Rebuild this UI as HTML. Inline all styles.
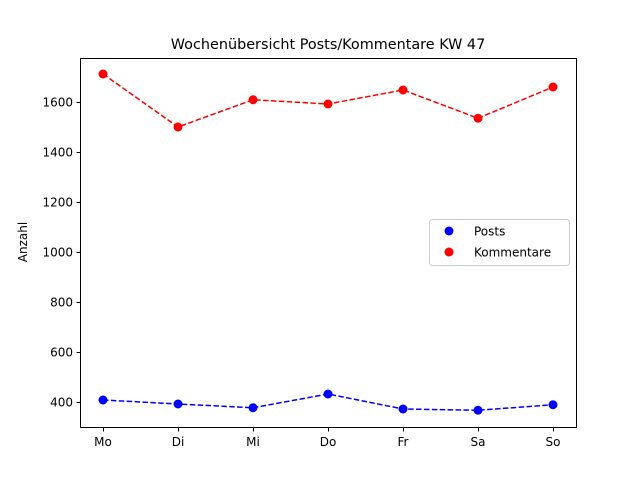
<!DOCTYPE html>
<html><head><meta charset="utf-8"><style>
body{margin:0;background:#fff;}
svg text{font-family:"DejaVu Sans","Liberation Sans",sans-serif;}
</style></head><body>
<svg id="chart" width="640" height="480" xmlns="http://www.w3.org/2000/svg">
<rect x="0" y="0" width="640" height="480" fill="#fff"/>
<text x="328" y="49" font-size="14.4" text-anchor="middle">Wochenübersicht Posts/Kommentare KW 47</text>
<text transform="translate(27,242) rotate(-90)" font-size="12" text-anchor="middle">Anzahl</text>
<g id="axes"></g>
<g id="marks"></g>
<g>
<rect x="429.5" y="219.5" width="140" height="46" rx="3" fill="#fff" stroke="#ccc"/>
<circle cx="449" cy="231" r="4.5" fill="blue"/>
<text x="474" y="235.5" font-size="12">Posts</text>
<circle cx="449" cy="252" r="4.5" fill="red"/>
<text x="474" y="256.5" font-size="12">Kommentare</text>
</g>
<rect x="80.5" y="58.5" width="496" height="369" fill="none" stroke="#000" stroke-width="1"/>
</svg>
<script>
const categories=["Mo","Di","Mi","Do","Fr","Sa","So"];
const posts=[408,392,377,432,372,367,389];
const kommentare=[1712,1500,1609,1592,1648,1535,1660];
const yTicks=[400,600,800,1000,1200,1400,1600];
const NS="http://www.w3.org/2000/svg";
function x(i){return 103+i*75;}
function y(v){return 402-(v-400)*0.25;}
function mk(tag,attrs,parent){const e=document.createElementNS(NS,tag);for(const k in attrs)e.setAttribute(k,attrs[k]);parent.appendChild(e);return e;}
const axes=document.getElementById('axes'),marks=document.getElementById('marks');
yTicks.forEach(v=>{
 const t=mk('line',{x1:76.5,x2:80.5,y1:y(v)+0.5,y2:y(v)+0.5,stroke:'#000'},axes);
 
 
 const l=mk('text',{x:73,y:y(v)+4.5,'font-size':12,'text-anchor':'end'},axes);
 l.textContent=v;
 
 
});
categories.forEach((c,i)=>{
 const t=mk('line',{x1:x(i)+0.5,x2:x(i)+0.5,y1:427.5,y2:431.5,stroke:'#000'},axes);
 
 
 const l=mk('text',{x:x(i),y:446,'font-size':12,'text-anchor':'middle'},axes);
 l.textContent=c;
 
 
});
function series(vals,color,name){
 const p=mk('polyline',{points:vals.map((v,i)=>x(i)+','+y(v)).join(' '),fill:'none',stroke:color,'stroke-width':1.5,'stroke-dasharray':'5.5,2.4'},marks);
 
 
 vals.forEach((v,i)=>{
  const c=mk('circle',{cx:x(i),cy:y(v),r:4.5,fill:color},marks);
  
  
 });
}
series(posts,'blue','posts');
series(kommentare,'red','kommentare');
</script>
</body></html>
